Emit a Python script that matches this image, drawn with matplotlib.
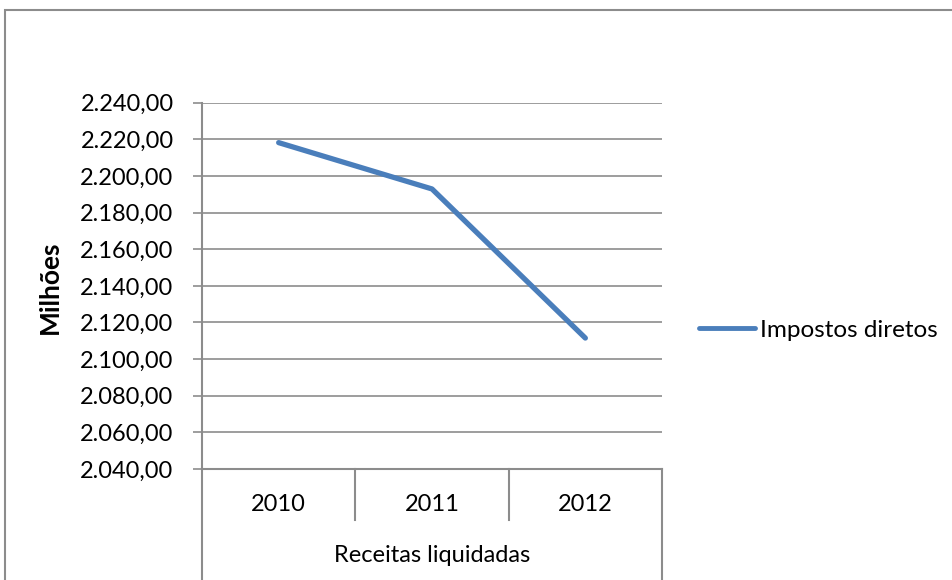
import matplotlib.pyplot as plt
from matplotlib.ticker import FuncFormatter, MultipleLocator
from matplotlib.lines import Line2D
from matplotlib.patches import Rectangle

# Receitas liquidadas - impostos diretos (milhões)
anos = ["2010", "2011", "2012"]
impostos_diretos = [2218.2, 2192.9, 2111.5]

serie_nome = "Impostos diretos"
eixo_x_nome = "Receitas liquidadas"
eixo_y_nome = "Milhões"

plt.rcParams['font.family'] = ['Lato', 'DejaVu Sans']

W, H = 953, 580
grey = "#8c8c8c"
blue = "#4a7ebb"


def fmt_pt(v, pos):
    # 2240 -> 2.240,00
    s = "{:,.2f}".format(v)
    return s.replace(",", "X").replace(".", ",").replace("X", ".")


fig = plt.figure(figsize=(W / 100, H / 100), dpi=100)

# chart frame (runs off the right and bottom edges)
fig.patches.append(Rectangle((5 / W, -0.1), 1.2, 1 - 10 / H + 0.1,
                             transform=fig.transFigure, fill=False,
                             edgecolor=grey, linewidth=1.5))

left, right, top, bottom = 202, 662, 102.7, 469
ax = fig.add_axes([left / W, 1 - bottom / H, (right - left) / W, (bottom - top) / H])

x = [i + 0.5 for i in range(len(anos))]
ax.plot(x, impostos_diretos, color=blue, linewidth=3.8, solid_capstyle='round',
        solid_joinstyle='round', zorder=3)

ax.set_xlim(0, len(anos))
ax.set_ylim(2040, 2240)
ax.yaxis.set_major_locator(MultipleLocator(20))
ax.yaxis.set_major_formatter(FuncFormatter(fmt_pt))
ax.yaxis.grid(True, color=grey, linewidth=1.2)
ax.set_axisbelow(True)

for s in ["top", "right"]:
    ax.spines[s].set_visible(False)
for s in ["left", "bottom"]:
    ax.spines[s].set_color(grey)
    ax.spines[s].set_linewidth(1.5)

ax.tick_params(axis='y', length=6.5, width=1.2, color=grey, labelsize=17, pad=14)
ax.set_xticks(x)
ax.set_xticklabels(anos)
ax.tick_params(axis='x', length=0, labelsize=17, pad=18)

# category separators under the axis
tr = ax.get_xaxis_transform()
sep = -51 / (bottom - top)
for i in range(1, len(anos)):
    ax.plot([i, i], [0, sep], color=grey, linewidth=1.5, transform=tr, clip_on=False)
for i in [0, len(anos)]:
    ax.plot([i, i], [0, -0.35], color=grey, linewidth=1.5, transform=tr, clip_on=False)

ax.text(0.5, (bottom - 556) / (bottom - top), eixo_x_nome, transform=ax.transAxes,
        ha='center', va='center', fontsize=17)
fig.text(50 / W, 1 - 287 / H, eixo_y_nome, rotation=90, ha='center', va='center',
         fontsize=19, fontweight='bold')

handle = Line2D([], [], color=blue, linewidth=3.5, solid_capstyle='round')
fig.legend([handle], [serie_nome], loc='center left',
           bbox_to_anchor=(699 / W, 1 - 330 / H), frameon=False,
           handlelength=2.3, handletextpad=0.2, borderpad=0, borderaxespad=0,
           fontsize=17.5)

fig.savefig("out.png", dpi=100)
